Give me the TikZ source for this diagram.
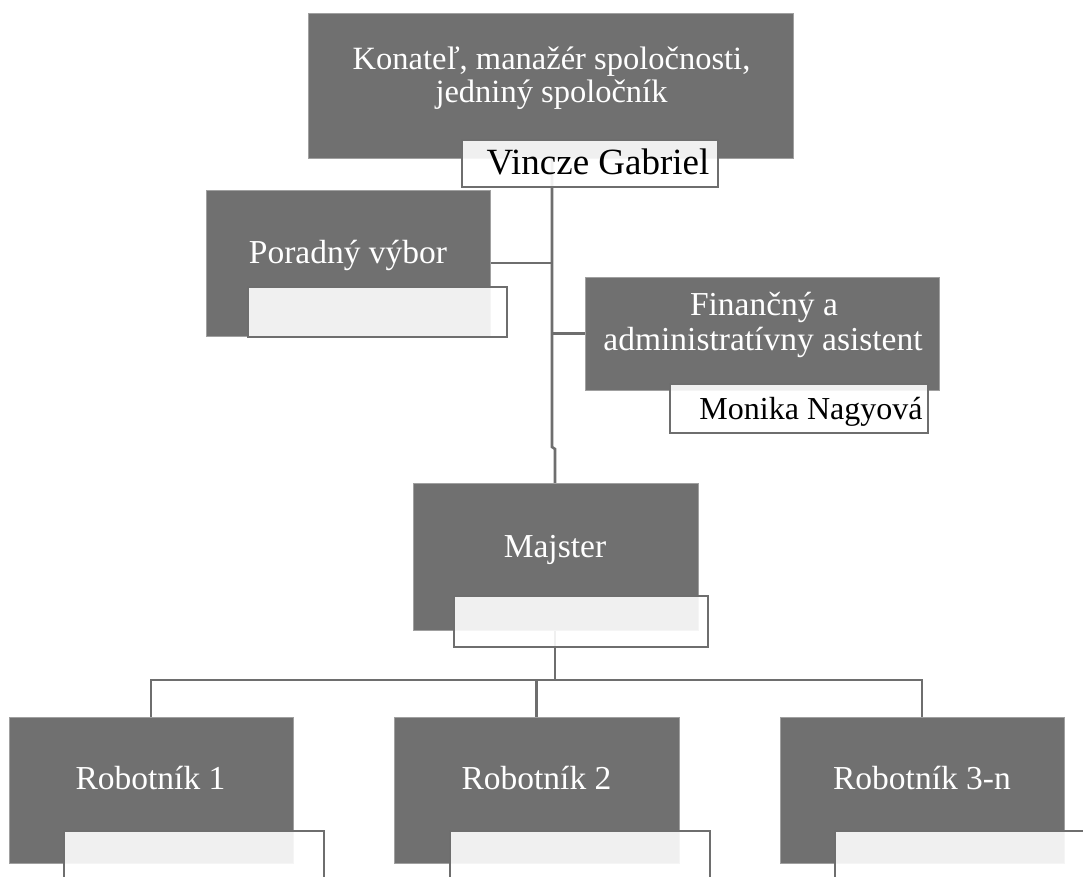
\documentclass[tikz,border=0pt]{standalone}
\usepackage{fontspec}
\setmainfont{Liberation Serif}
\definecolor{boxgray}{HTML}{707070}
\definecolor{linegray}{HTML}{6E6E6E}
\definecolor{edgegray}{HTML}{A0A0A0}
\pgfdeclarelayer{background}
\pgfdeclarelayer{canvas}
\pgfsetlayers{canvas,background,main}
\begin{document}
\begin{tikzpicture}[x=1pt,y=-1pt,
  graybox/.style={fill=boxgray, draw=edgegray, line width=0.6pt, inner sep=0pt, outer sep=0pt, anchor=north west},
  namebox/.style={fill=white, fill opacity=0.9, draw=linegray, draw opacity=1, line width=2pt, inner sep=0pt, outer sep=0pt, anchor=north west},
  conn/.style={draw=linegray, line width=2.6pt},
  wtxt/.style={text=white, font=\fontsize{33.5}{34}\selectfont, inner sep=0pt, anchor=base},
  btxt/.style={text=black, inner sep=0pt, anchor=base}
]
\useasboundingbox (0,0) rectangle (1083,876);
\begin{pgfonlayer}{canvas}
\fill[white] (0,0) rectangle (1083,876);
\end{pgfonlayer}
\clip (0,0) rectangle (1083,876);

% gray boxes
\node[graybox, minimum width=485pt, minimum height=145pt] (top) at (308,13) {};
\node[graybox, minimum width=284pt, minimum height=146pt] (por) at (206,190) {};
\node[graybox, minimum width=354pt, minimum height=113pt] (fin) at (585,277) {};
\node[graybox, minimum width=285pt, minimum height=147pt] (maj) at (413,483) {};
\node[graybox, minimum width=284pt, minimum height=146pt] (r1) at (9,717) {};
\node[graybox, minimum width=285pt, minimum height=146pt] (r2) at (394,717) {};
\node[graybox, minimum width=284pt, minimum height=146pt] (r3) at (780,717) {};

% name boxes
\node[namebox, minimum width=256pt, minimum height=47pt] (topn) at (462,140) {};
\node[namebox, minimum width=259pt, minimum height=50pt] (porn) at (248,287) {};
\node[namebox, minimum width=258pt, minimum height=49pt] (finn) at (670,384) {};
\node[namebox, minimum width=254pt, minimum height=51pt] (majn) at (454,596) {};
\node[namebox, minimum width=260pt, minimum height=52pt] (r1n) at (64,831) {};
\node[namebox, minimum width=260pt, minimum height=52pt] (r2n) at (450,831) {};
\node[namebox, minimum width=260pt, minimum height=52pt] (r3n) at (835,831) {};

% texts
\node[wtxt, font=\fontsize{32.5}{33}\selectfont] (topt1) at (551.5,69) {Konateľ, manažér spoločnosti,};
\node[wtxt, font=\fontsize{32.5}{33}\selectfont] (topt2) at (551.5,102) {jedniný spoločník};
\node[btxt, font=\fontsize{37}{38}\selectfont] (topname) at (598,174) {Vincze Gabriel};
\node[wtxt] (port) at (348,263) {Poradný výbor};
\node[wtxt] (fint1) at (764,315) {Finančný a};
\node[wtxt] (fint2) at (763,350) {administratívny asistent};
\node[btxt, font=\fontsize{32}{33}\selectfont] (finname) at (811,419) {Monika Nagyová};
\node[wtxt] (majt) at (555,557) {Majster};
\node[wtxt] (r1t) at (150.5,789) {Robotník 1};
\node[wtxt] (r2t) at (536.5,789) {Robotník 2};
\node[wtxt] (r3t) at (922,789) {Robotník 3-n};

% connectors
\coordinate (t0) at (552,158);
\coordinate (t1) at (552,447);
\coordinate (t2) at (555,449);
\coordinate (b0) at (555,680);
\begin{pgfonlayer}{background}
\draw[conn] (t0) -- (t1) -- (t2) -- (maj.north -| t2);
\draw[conn] (por.east) -- (por.east -| t0);
\draw[conn] (fin.west) -- (fin.west -| t0);
\draw[conn] (maj.south -| b0) -- (b0);
\draw[conn] (r1.north) -- (r1.north |- b0) -- (r3.north |- b0) -- (r3.north);
\draw[conn] (r2.north) -- (r2.north |- b0);
\end{pgfonlayer}
\end{tikzpicture}
\end{document}
